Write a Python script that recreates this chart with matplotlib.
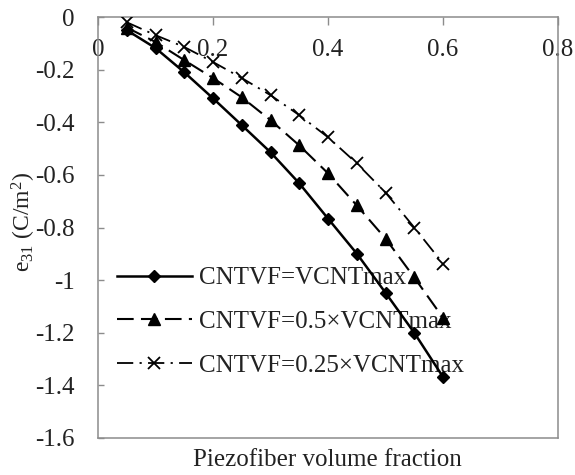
import matplotlib
matplotlib.use("Agg")
import matplotlib.pyplot as plt

# Piezofiber volume fraction
vf = [0.05, 0.10, 0.15, 0.20, 0.25, 0.30, 0.35, 0.40, 0.45, 0.50, 0.55, 0.60]

# e31 (C/m^2) for the three CNT volume fractions
e31_full = [-0.05, -0.118, -0.21, -0.309, -0.411, -0.514, -0.632, -0.766, -0.899, -1.048, -1.20, -1.368]
e31_half = [-0.04, -0.095, -0.164, -0.232, -0.305, -0.392, -0.488, -0.594, -0.716, -0.842, -0.99, -1.143]
e31_quarter = [-0.02, -0.069, -0.114, -0.171, -0.232, -0.297, -0.373, -0.457, -0.556, -0.667, -0.80, -0.937]

labels = ["CNTVF=VCNTmax", "CNTVF=0.5×VCNTmax", "CNTVF=0.25×VCNTmax"]
xticks = [0, 0.2, 0.4, 0.6, 0.8]
yticks = [0, -0.2, -0.4, -0.6, -0.8, -1, -1.2, -1.4, -1.6]

spine_color = '#8c8c8c'
text_color = '#222222'

plt.rcParams.update({
    'font.family': 'Liberation Serif',
    'font.size': 18,
    'mathtext.fontset': 'custom',
    'mathtext.rm': 'Liberation Serif',
    'mathtext.it': 'Liberation Serif:italic',
})

fig = plt.figure(figsize=(5.75, 4.75), dpi=100)
ax = fig.add_axes([98 / 575, 1 - 438 / 475, 460 / 575, 421 / 475])

ax.plot(vf, e31_full, color='black', linewidth=1.8, marker='D', markersize=6.5,
        label=labels[0], zorder=3)
ax.plot(vf, e31_half, color='black', linewidth=1.5, linestyle=(0, (8, 3.5)),
        marker='^', markersize=8, label=labels[1], zorder=3)
ax.plot(vf, e31_quarter, color='black', linewidth=1.3, linestyle=(0, (9, 3.5, 1.2, 3.5)),
        marker='x', markersize=8.5, markeredgewidth=1.3, label=labels[2], zorder=3)

ax.set_xlim(0, 0.8)
ax.set_ylim(-1.6, 0)
ax.set_xticks(xticks)
ax.set_xticklabels(["0", "0.2", "0.4", "0.6", "0.8"])
ax.set_yticks(yticks)
ax.set_yticklabels(["0", "-0.2", "-0.4", "-0.6", "-0.8", "-1", "-1.2", "-1.4", "-1.6"])

for sp in ax.spines.values():
    sp.set_color(spine_color)
    sp.set_linewidth(1.1)

# x axis sits at e31 = 0 (top), labels drawn just below it
ax.tick_params(axis='x', direction='in', top=True, bottom=False, labeltop=True,
               labelbottom=False, length=6, width=1, color=spine_color,
               labelcolor=text_color, pad=-32)
ax.tick_params(axis='y', direction='in', left=True, right=False, length=4.5, width=1,
               color=spine_color, labelcolor=text_color, pad=17)

fig.text(327 / 575, 1 - 460 / 475, "Piezofiber volume fraction", ha='center', va='center',
         color=text_color)
fig.text(24 / 575, 1 - 222 / 475, r"e$_{31}$ (C/m$^{2}$)", rotation=90, ha='center',
         va='center', color=text_color, fontsize=17)

leg = ax.legend(loc='center left', bbox_to_anchor=(0.041, 0.276), frameon=False,
                borderpad=0, borderaxespad=0, handlelength=3.0, handletextpad=0.3,
                labelspacing=0.85, numpoints=1)
leg.set_zorder(1)
for t in leg.get_texts():
    t.set_color(text_color)

fig.savefig("out.png", dpi=100)
